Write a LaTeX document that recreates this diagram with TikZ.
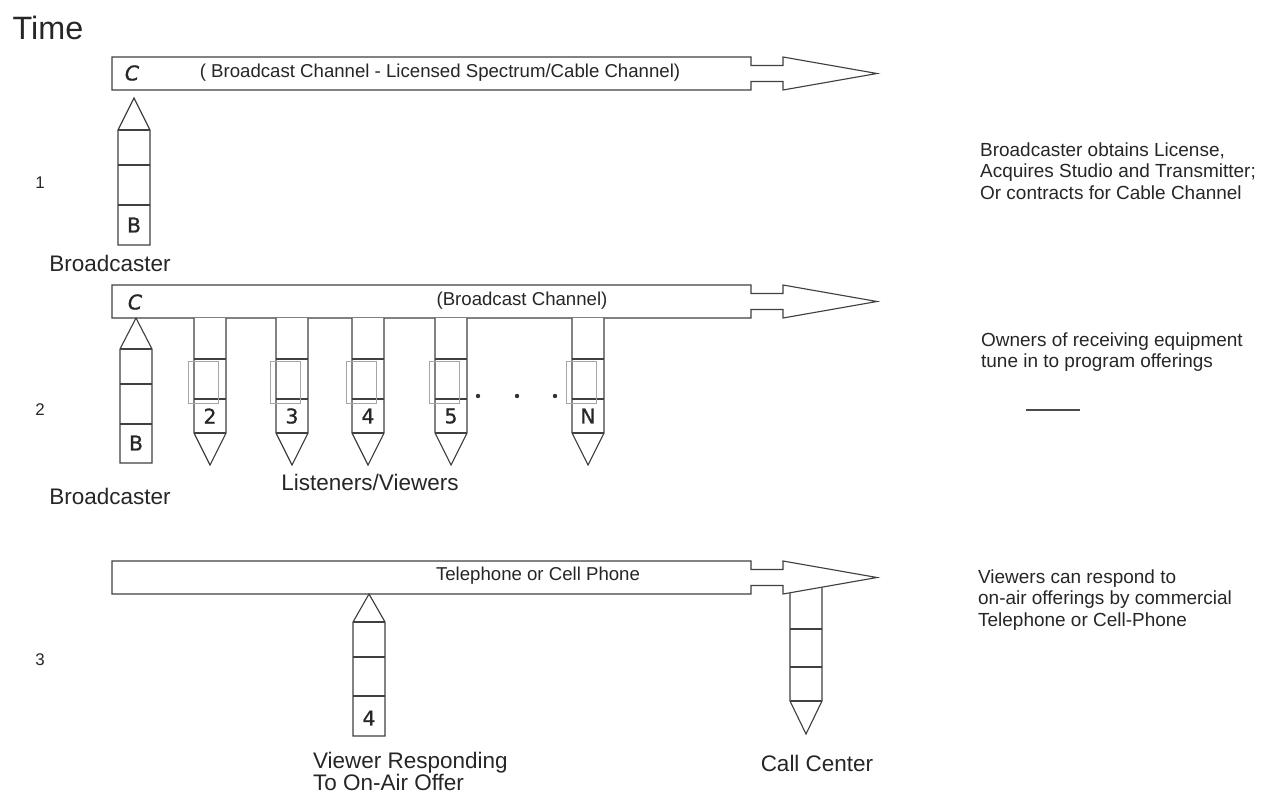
\documentclass[tikz,border=0pt]{standalone}
\usepackage{fontspec}
\setmainfont{Liberation Sans}
\newfontfamily\handfont[FakeBold=0.8]{DejaVu Sans}
\begin{document}
\begin{tikzpicture}[x=0.05cm,y=-0.05cm,
  every node/.style={inner sep=0pt,text=black!85},
  outline/.style={draw=black!75,line width=1.6pt,line join=miter},
  divider/.style={draw=black!75,line width=2pt},
  ghost/.style={draw=black!35,line width=0.7pt},
  celltag/.style={font=\handfont\fontsize{29}{32}\selectfont},
  chan/.style={font=\fontsize{26.5}{30}\selectfont},
  caption/.style={font=\fontsize{32}{31}\selectfont},
  note/.style={font=\fontsize{27}{30}\selectfont,align=left,anchor=north west}]
\useasboundingbox (0,0) rectangle (1263,799);

% call center hangs under the third arrow head
\draw[outline,fill=white] (790,580) -- (790,701) -- (806,734) -- (822,701) -- (822,580);
\draw[divider] (790,629) -- (822,629) (790,667) -- (822,667) (790,701) -- (822,701);

% channel arrows
\foreach \t in {57,285,561}
  \draw[outline,fill=white] (112,\t) -- (751,\t) -- (751,\t+8.5) -- (783,\t+8.5) -- (783,\t)
    -- (877,\t+16.5) -- (783,\t+33) -- (783,\t+24.5) -- (751,\t+24.5) -- (751,\t+33) -- (112,\t+33) -- cycle;

% senders pointing up
\foreach \xl/\tip/\base/\la/\lb/\bot in {118/98/130/165/205/245,120/318/349/384/424/463,353/594/622/657/696/736}{
  \draw[outline,fill=white] (\xl,\bot) -- (\xl,\base) -- (\xl+16,\tip) -- (\xl+32,\base) -- (\xl+32,\bot) -- cycle;
  \draw[divider] (\xl,\base) -- (\xl+32,\base) (\xl,\la) -- (\xl+32,\la) (\xl,\lb) -- (\xl+32,\lb);
}

% receivers pointing down
\foreach \xl/\n in {194/2,276/3,352/4,435/5,572/N}{
  \draw[outline,fill=white] (\xl,318) -- (\xl,433) -- (\xl+16,465) -- (\xl+32,433) -- (\xl+32,318);
  \draw[divider] (\xl,359) -- (\xl+32,359) (\xl,399) -- (\xl+32,399) (\xl,433) -- (\xl+32,433);
  \draw[ghost] (\xl-6,361) rectangle (\xl+24,403);
  \node[celltag] (rx\n) at (\xl+16,416) {\n};
}
\foreach \dx in {478,517,555}
  \fill[black!80] (\dx,396) circle (2.2);

% texts in the arrows
\node[celltag] (c1) at (132,73) {\itshape C};
\node[chan] (ch1) at (440,73) {( Broadcast Channel - Licensed Spectrum/Cable Channel)};
\node[celltag] (c2) at (135,302) {\itshape C};
\node[chan] (ch2) at (522,301) {(Broadcast Channel)};
\node[chan] (ch3) at (538,576) {Telephone or Cell Phone};

% cell tags
\node[celltag] (b1) at (134,225) {B};
\node[celltag] (b2) at (136,443) {B};
\node[celltag] (v4) at (369,718) {4};

% captions
\node[font=\fontsize{46}{50}\selectfont] (time) at (48,28) {Time};
\node[caption] (bc1) at (110,263) {Broadcaster};
\node[caption] (bc2) at (110,496) {Broadcaster};
\node[caption] (lv) at (370,482) {Listeners/Viewers};
\node[caption,align=left,anchor=north west] (vr) at (313,752) {Viewer Responding\\To On-Air Offer};
\node[caption] (cc) at (817,763) {Call Center};

% step numbers
\node[font=\fontsize{24}{26}\selectfont] (s1) at (40,183) {1};
\node[font=\fontsize{24}{26}\selectfont] (s2) at (40,410) {2};
\node[font=\fontsize{24}{26}\selectfont] (s3) at (40,660) {3};

% notes on the right
\node[note] (n1) at (980,143) {Broadcaster obtains License,\\Acquires Studio and Transmitter;\\Or contracts for Cable Channel};
\node[note] (n2) at (981,333) {Owners of receiving equipment\\tune in to program offerings};
\draw[black!70,line width=1.5pt] (1026,410) -- (1080,410);
\node[note] (n3) at (978,570) {Viewers can respond to\\on-air offerings by commercial\\Telephone or Cell-Phone};
\end{tikzpicture}
\end{document}
